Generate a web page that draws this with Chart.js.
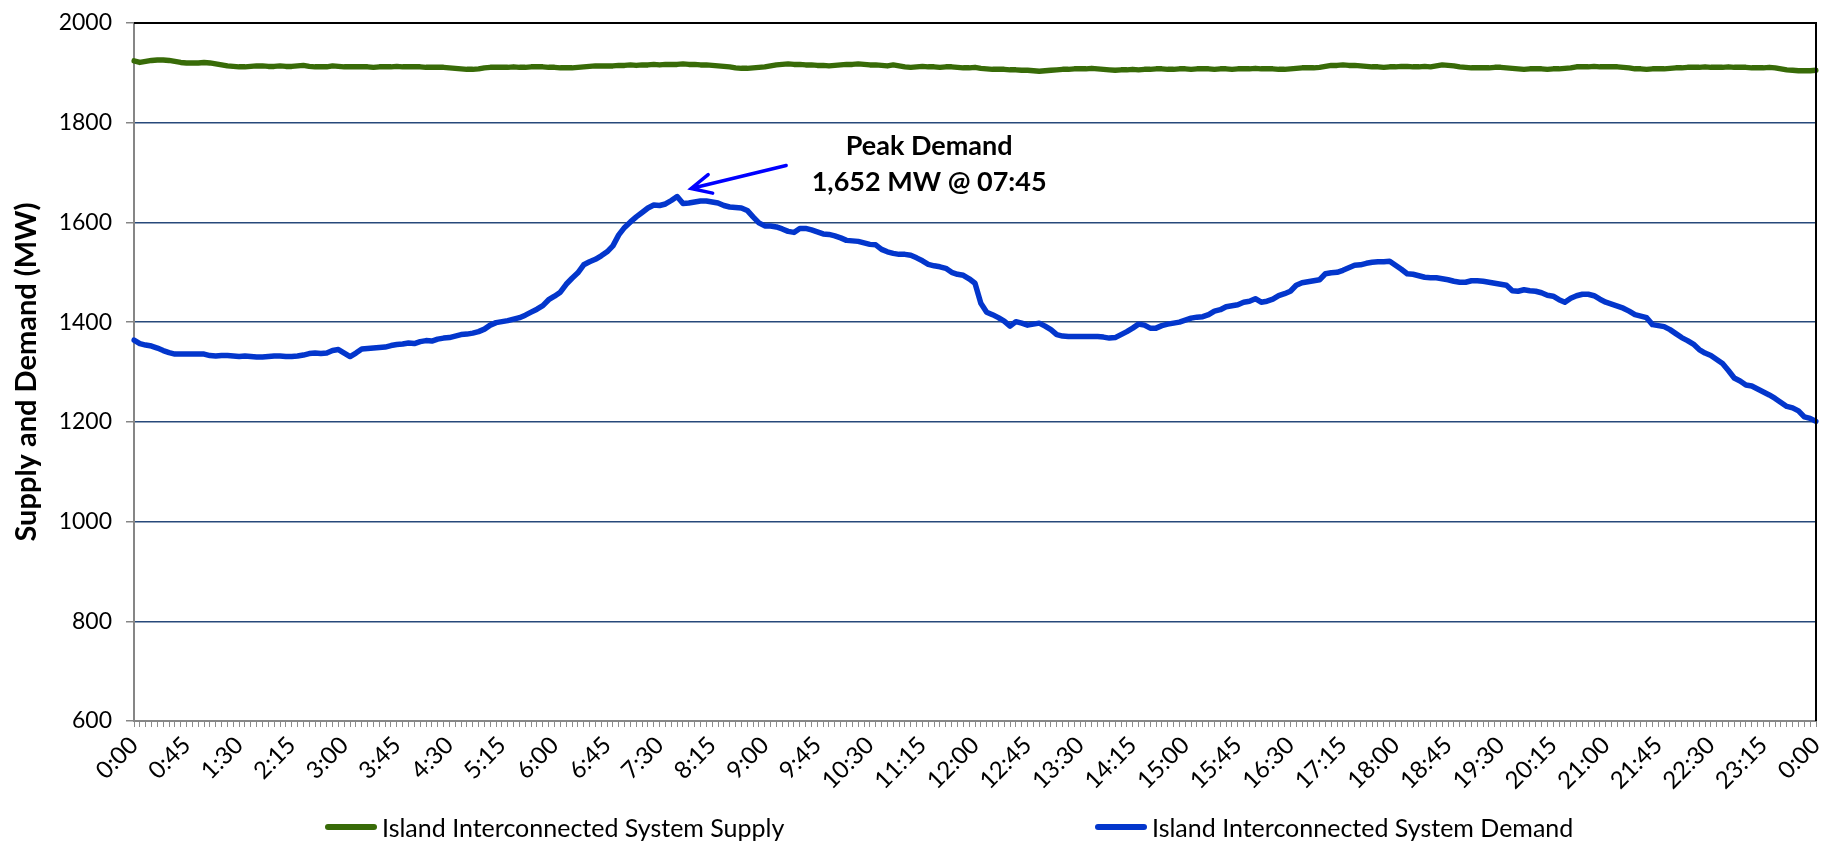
<!DOCTYPE html>
<html>
<head>
<meta charset="utf-8">
<script src="https://cdn.jsdelivr.net/npm/chart.js@4/dist/chart.umd.min.js"></script>
<style>
  html, body { margin: 0; padding: 0; background: #fff; }
  #wrap { position: relative; width: 1821px; height: 843px; }
  #legend { position: absolute; top: 810px; left: 0; width: 1821px; height: 34px;
            font-family: Lato, sans-serif; font-size: 25px; color: #000; }
  .item { position: absolute; top: 0; height: 34px; display: flex; align-items: center; white-space: nowrap; }
  .swatch { display: inline-block; width: 52px; height: 6px; border-radius: 3px; margin-right: 5px; }
</style>
</head>
<body>
<div id="wrap">
  <canvas id="chart" width="1821" height="843"></canvas>
  <div id="legend"></div>
</div>
<script>
// 5-minute readings, 0:00 to 0:00 next day (289 points)
var supplyMW = [
  1924, 1921, 1923, 1925, 1926, 1926, 1925, 1923, 1921, 1920,
  1920, 1920, 1921, 1920, 1918, 1916, 1914, 1913, 1912, 1912,
  1913, 1914, 1914, 1913, 1913, 1914, 1913, 1913, 1914, 1915,
  1913, 1912, 1912, 1912, 1914, 1913, 1912, 1912, 1912, 1912,
  1912, 1911, 1912, 1912, 1912, 1913, 1912, 1912, 1912, 1912,
  1911, 1911, 1911, 1911, 1910, 1909, 1908, 1907, 1907, 1908,
  1910, 1911, 1911, 1911, 1911, 1912, 1911, 1911, 1912, 1912,
  1912, 1911, 1911, 1910, 1910, 1910, 1911, 1912, 1913, 1914,
  1914, 1914, 1914, 1915, 1915, 1916, 1915, 1916, 1916, 1917,
  1916, 1917, 1917, 1917, 1918, 1917, 1917, 1916, 1916, 1915,
  1914, 1913, 1912, 1910, 1909, 1909, 1910, 1911, 1912, 1914,
  1916, 1917, 1918, 1917, 1917, 1916, 1916, 1915, 1915, 1914,
  1915, 1916, 1917, 1917, 1918, 1917, 1916, 1916, 1915, 1914,
  1916, 1914, 1912, 1911, 1912, 1913, 1912, 1912, 1911, 1912,
  1912, 1911, 1910, 1910, 1911, 1909, 1908, 1907, 1907, 1907,
  1906, 1906, 1905, 1905, 1904, 1903, 1904, 1905, 1906, 1907,
  1907, 1908, 1908, 1908, 1909, 1908, 1907, 1906, 1905, 1906,
  1906, 1907, 1906, 1907, 1907, 1908, 1908, 1907, 1907, 1908,
  1908, 1907, 1908, 1908, 1908, 1907, 1908, 1908, 1907, 1908,
  1908, 1908, 1909, 1908, 1908, 1908, 1907, 1907, 1908, 1909,
  1910, 1910, 1910, 1911, 1913, 1915, 1915, 1916, 1915, 1915,
  1914, 1913, 1912, 1912, 1911, 1912, 1912, 1913, 1913, 1912,
  1912, 1913, 1912, 1914, 1916, 1915, 1914, 1912, 1911, 1910,
  1910, 1910, 1910, 1911, 1911, 1910, 1909, 1908, 1907, 1908,
  1908, 1908, 1907, 1908, 1908, 1909, 1910, 1912, 1912, 1912,
  1913, 1912, 1912, 1912, 1912, 1911, 1910, 1908, 1908, 1907,
  1908, 1908, 1908, 1909, 1910, 1910, 1911, 1911, 1911, 1912,
  1911, 1911, 1911, 1912, 1911, 1911, 1911, 1910, 1910, 1910,
  1911, 1910, 1908, 1906, 1905, 1904, 1904, 1904, 1905
];

var demandMW = [
  1364, 1357, 1354, 1352, 1348, 1343, 1339, 1336, 1336, 1336,
  1336, 1336, 1336, 1333, 1332, 1333, 1333, 1332, 1331, 1332,
  1331, 1330, 1330, 1331, 1332, 1332, 1331, 1331, 1332, 1334,
  1337, 1338, 1337, 1338, 1343, 1345, 1338, 1331, 1338, 1346,
  1347, 1348, 1349, 1350, 1353, 1355, 1356, 1358, 1357, 1361,
  1363, 1362, 1366, 1368, 1369, 1372, 1375, 1376, 1378, 1381,
  1386, 1394, 1399, 1401, 1403, 1406, 1409, 1414, 1420, 1426,
  1433, 1445, 1452, 1460, 1476, 1488, 1499, 1515, 1521, 1526,
  1533, 1541, 1553, 1575, 1590, 1601, 1611, 1620, 1629, 1635,
  1634, 1637, 1644, 1652, 1638, 1639, 1641, 1643, 1643, 1641,
  1639, 1634, 1631, 1630, 1629, 1624, 1611, 1599, 1593, 1593,
  1591, 1587, 1582, 1580, 1588, 1588, 1585, 1581, 1577, 1576,
  1573, 1569, 1564, 1563, 1562, 1559, 1556, 1555, 1546, 1541,
  1538, 1536, 1536, 1534, 1529, 1523, 1516, 1513, 1511, 1508,
  1500, 1496, 1494, 1487, 1478, 1438, 1420, 1415, 1409, 1402,
  1392, 1401, 1398, 1394, 1396, 1398, 1392, 1385, 1375, 1372,
  1371, 1371, 1371, 1371, 1371, 1371, 1370, 1368, 1369, 1375,
  1381, 1388, 1396, 1394, 1388, 1388, 1393, 1396, 1398, 1400,
  1404, 1408, 1410, 1411, 1415, 1422, 1425, 1431, 1433, 1435,
  1440, 1442, 1447, 1440, 1442, 1446, 1453, 1457, 1462, 1474,
  1479, 1481, 1483, 1485, 1497, 1499, 1500, 1504, 1509, 1514,
  1515, 1518, 1520, 1521, 1521, 1522, 1514, 1506, 1497, 1496,
  1493, 1490, 1489, 1489, 1487, 1485, 1482, 1480, 1480, 1483,
  1483, 1482, 1480, 1478, 1476, 1474, 1463, 1462, 1465, 1463,
  1462, 1459, 1454, 1452, 1445, 1440, 1448, 1453, 1456, 1456,
  1453, 1446, 1440, 1436, 1432, 1428, 1422, 1415, 1412, 1409,
  1395, 1393, 1391, 1385, 1377, 1369, 1363, 1356, 1345, 1338,
  1333, 1325, 1317, 1303, 1288, 1282, 1274, 1272, 1266, 1260,
  1254, 1247, 1239, 1231, 1228, 1222, 1210, 1207, 1201
];

// category labels, one per 5 minutes; every 9th one is shown
var timeLabels = [];
for (var m = 0; m <= 1440; m += 5) {
  var hh = Math.floor(m / 60) % 24;
  var mm = m % 60;
  timeLabels.push(hh + ':' + (mm < 10 ? '0' : '') + mm);
}
var labelEvery = 9;

var seriesNames = ['Island Interconnected System Supply', 'Island Interconnected System Demand'];
var seriesColors = ['#386b08', '#0336cc'];

var FONT = 'Lato, sans-serif';

// black frame on the top and right of the plot
var plotFrame = {
  id: 'plotFrame',
  afterDraw: function (chart) {
    var a = chart.chartArea, ctx = chart.ctx;
    ctx.save();
    ctx.strokeStyle = '#000';
    ctx.lineWidth = 2;
    ctx.beginPath();
    ctx.moveTo(a.left, a.top);
    ctx.lineTo(a.right, a.top);
    ctx.lineTo(a.right, a.bottom);
    ctx.stroke();
    ctx.restore();
  }
};

// arrow and label at the demand peak
var peakNote = {
  id: 'peakNote',
  afterDatasetsDraw: function (chart) {
    var ctx = chart.ctx;
    var peak = Math.max.apply(null, demandMW);
    var idx = demandMW.indexOf(peak);
    var px = chart.scales.x.getPixelForValue(idx);
    var py = chart.scales.y.getPixelForValue(peak);

    var tipX = px + 14, tipY = py - 8;
    var tailX = px + 109, tailY = py - 31;
    var ang = Math.atan2(tailY - tipY, tailX - tipX);

    ctx.save();
    ctx.strokeStyle = '#0000ff';
    ctx.lineWidth = 3.5;
    ctx.lineCap = 'round';
    ctx.beginPath();
    ctx.moveTo(tailX, tailY);
    ctx.lineTo(tipX, tipY);
    ctx.moveTo(tipX + 22 * Math.cos(ang - 0.45), tipY + 22 * Math.sin(ang - 0.45));
    ctx.lineTo(tipX, tipY);
    ctx.lineTo(tipX + 22 * Math.cos(ang + 0.45), tipY + 22 * Math.sin(ang + 0.45));
    ctx.stroke();

    var hh = timeLabels[idx].split(':');
    var when = (hh[0].length < 2 ? '0' : '') + hh[0] + ':' + hh[1];
    ctx.fillStyle = '#000';
    ctx.font = 'bold 27px ' + FONT;
    ctx.textAlign = 'center';
    ctx.textBaseline = 'middle';
    ctx.fillText('Peak Demand', px + 252, py - 50);
    ctx.fillText(peak.toLocaleString('en-US') + ' MW @ ' + when, px + 252, py - 14);
    ctx.restore();
  }
};

var ctx = document.getElementById('chart').getContext('2d');
var chart = new Chart(ctx, {
  type: 'line',
  data: {
    labels: timeLabels,
    datasets: [
      { label: seriesNames[0], data: supplyMW, borderColor: seriesColors[0], backgroundColor: seriesColors[0],
        borderWidth: 5.5, pointRadius: 0, tension: 0, fill: false, borderJoinStyle: 'round', borderCapStyle: 'round' },
      { label: seriesNames[1], data: demandMW, borderColor: seriesColors[1], backgroundColor: seriesColors[1],
        borderWidth: 5.5, pointRadius: 0, tension: 0, fill: false, borderJoinStyle: 'round', borderCapStyle: 'round' }
    ]
  },
  options: {
    responsive: false,
    animation: false,
    layout: { padding: { top: 23, right: 5, left: 0, bottom: 0 } },
    plugins: { legend: { display: false }, tooltip: { enabled: false } },
    scales: {
      x: {
        grid: { display: true, drawOnChartArea: false, drawTicks: true, tickLength: 6, color: '#8c8c8c', lineWidth: 1 },
        border: { color: '#868686', width: 2 },
        ticks: {
          autoSkip: false, maxRotation: 45, minRotation: 45, padding: 4,
          color: '#000', font: { family: FONT, size: 24 },
          callback: function (v, i) { return i % labelEvery === 0 ? timeLabels[i] : ''; }
        },
        afterFit: function (s) { s.height = 122; s.paddingLeft = 0; s.paddingRight = 0; }
      },
      y: {
        min: 600, max: 2000,
        ticks: { stepSize: 200, padding: 14, color: '#000', font: { family: FONT, size: 23 },
                 callback: function (v) { return String(v); } },
        grid: {
          lineWidth: 1.5, tickLength: 8, tickColor: '#868686',
          color: function (c) {
            if (c.tick && c.tick.value === 2000) return '#000';
            if (c.tick && c.tick.value === 600) return 'rgba(0,0,0,0)';
            return '#27497a';
          }
        },
        border: { color: '#868686', width: 2 },
        title: { display: true, text: 'Supply and Demand (MW)', color: '#000',
                 font: { family: FONT, size: 29, weight: 'bold' }, padding: { top: 9, bottom: 0 } },
        afterFit: function (s) { s.width = 134; s.paddingTop = 0; s.paddingBottom = 0; }
      }
    }
  },
  plugins: [plotFrame, peakNote]
});

// legend below the axis
var legend = document.getElementById('legend');
var legendLeft = [325, 1095];
seriesNames.forEach(function (name, i) {
  var item = document.createElement('div');
  item.className = 'item';
  item.style.left = legendLeft[i] + 'px';
  item.innerHTML = '<span class="swatch" style="background:' + seriesColors[i] + '"></span><span>' + name + '</span>';
  legend.appendChild(item);
});
</script>
</body>
</html>
